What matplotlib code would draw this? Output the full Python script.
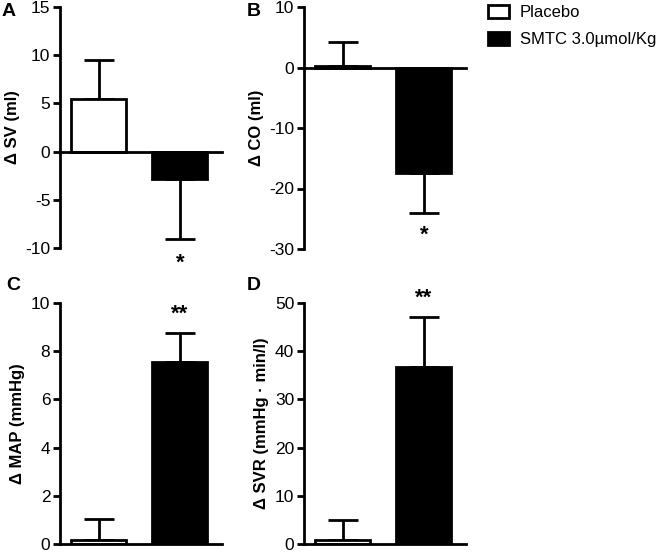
import matplotlib
matplotlib.use("Agg")
import matplotlib.pyplot as plt
from matplotlib.patches import Patch

plt.rcParams['font.family'] = ['Liberation Sans', 'DejaVu Sans']
plt.rcParams['axes.unicode_minus'] = False

groups = ['Placebo', 'SMTC 3.0\u00b5mol/Kg']

# panel data: mean change and SEM (one-sided error bars)
sv_mean = [5.5, -2.8]
sv_err = [4.0, 6.3]
co_mean = [0.3, -17.5]
co_err = [3.9, 6.5]
map_mean = [0.15, 7.55]
map_err = [0.9, 1.2]
svr_mean = [0.8, 36.7]
svr_err = [4.2, 10.3]

panels = [
    ('A', sv_mean, sv_err, '\u0394 SV (ml)', (-10, 15), [-10, -5, 0, 5, 10, 15], '*', -11.6),
    ('B', co_mean, co_err, '\u0394 CO (ml)', (-30, 10), [-30, -20, -10, 0, 10], '*', -27.8),
    ('C', map_mean, map_err, '\u0394 MAP (mmHg)', (0, 10), [0, 2, 4, 6, 8, 10], '**', 9.55),
    ('D', svr_mean, svr_err, '\u0394 SVR (mmHg \u00b7 min/l)', (0, 50), [0, 10, 20, 30, 40, 50], '**', 50.9),
]

W, H = 666, 553
fig = plt.figure(figsize=(W / 100, H / 100), dpi=100)

# axes boxes in pixels: left, top, right, bottom
boxes = [(60, 7, 222, 248), (304, 7, 466, 249), (60, 303, 222, 544), (304, 303, 466, 544)]
label_pos = [(2, 11), (247, 11), (6, 285), (247, 285)]

lw = 2.0
for (name, mean, err, ylabel, ylim, ticks, star, star_y), box, lp in zip(panels, boxes, label_pos):
    l, t, r, b = box
    ax = fig.add_axes([l / W, 1 - b / H, (r - l) / W, (b - t) / H])
    x = [0, 1]
    for i in range(2):
        fc = 'white' if i == 0 else 'black'
        ax.bar(x[i], mean[i], width=0.68, color=fc, edgecolor='black', linewidth=lw, zorder=2)
        if mean[i] >= 0:
            yerr = [[0], [err[i]]]
        else:
            yerr = [[err[i]], [0]]
        ax.errorbar(x[i], mean[i], yerr=yerr, fmt='none', ecolor='black',
                    elinewidth=lw, capsize=11, capthick=lw, zorder=1)
    ax.set_xlim(-0.48, 1.52)
    ax.set_ylim(*ylim)
    ax.set_yticks(ticks)
    ax.tick_params(axis='y', direction='out', length=5, width=lw, labelsize=12.5, pad=2)
    ax.set_xticks([])
    ax.spines['top'].set_visible(False)
    ax.spines['right'].set_visible(False)
    ax.spines['left'].set_linewidth(lw)
    ax.spines['bottom'].set_linewidth(lw)
    ax.spines['bottom'].set_position(('data', 0))
    ax.set_ylabel(ylabel, fontsize=12, fontweight='bold', labelpad=4)
    ax.text(x[1], star_y, star, ha='center', va='center', fontsize=16,
            fontweight='bold', clip_on=False)
    fig.text(lp[0] / W, 1 - lp[1] / H, name, fontsize=14, fontweight='bold',
             ha='left', va='center')

handles = [Patch(facecolor='white', edgecolor='black', linewidth=lw),
           Patch(facecolor='black', edgecolor='black', linewidth=lw)]
fig.legend(handles, groups, loc='upper left', bbox_to_anchor=(488 / W, 1 - 5 / H),
           frameon=False, fontsize=12, borderpad=0, borderaxespad=0,
           handlelength=1.25, handleheight=0.8, handletextpad=0.65, labelspacing=0.7)

fig.savefig('out.png', dpi=100)
